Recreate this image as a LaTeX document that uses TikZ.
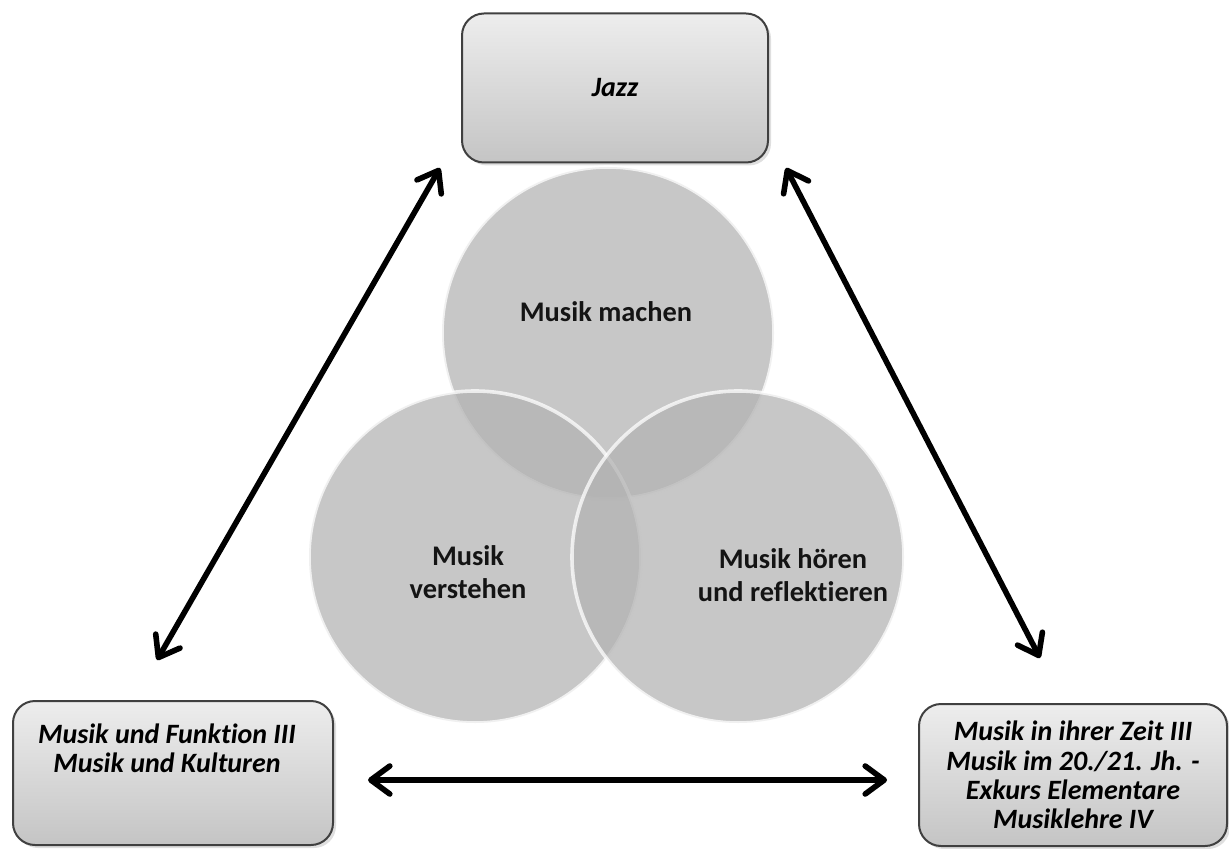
\documentclass[tikz,border=0pt]{standalone}
\usepackage{fontspec}
\setmainfont{Carlito}[Ligatures=NoCommon]
\usepackage{tikz}
\usetikzlibrary{arrows.meta,shadows,positioning}

\begin{document}
\begin{tikzpicture}[x=0.5pt,y=-0.5pt]
    \tikzset{topic/.style={draw=black!75,line width=1pt,rounded corners=11pt,
        top color=black!7,bottom color=black!23,
        drop shadow={opacity=.25,shadow xshift=1.5pt,shadow yshift=-1.5pt},
        inner sep=0pt,align=center,font=\bfseries\itshape\fontsize{14}{14.6}\selectfont},
      ring/.style={circle,minimum size=166pt,inner sep=0pt,
        fill=black!30,fill opacity=.73,draw=white,draw opacity=.75,line width=1.8pt},
      ringtext/.style={align=center,text=black!92,font=\bfseries\fontsize{14.2}{16.5}\selectfont},
      link/.style={line width=2.8pt,line cap=round,
        {Straight Barb[length=9.5pt,width=14pt,round]}-{Straight Barb[length=9.5pt,width=14pt,round]}}}
    \useasboundingbox (0,0) rectangle (1229,849);
    % topics
    \node[topic,minimum width=153pt,minimum height=74.5pt] (jazz) at (615,88) {Jazz};
    \node[topic,minimum width=160pt,minimum height=72pt] (funk) at (173,773) {};
    \node[align=center,font=\bfseries\itshape\fontsize{14}{14.6}\selectfont] (funktxt) at (167,748)
      {Musik und Funktion III\\Musik und Kulturen};
    \node[topic,minimum width=154pt,minimum height=71pt] (zeit) at (1073,775)
      {Musik in ihrer Zeit III\\Musik im 20./21. Jh. -\\Exkurs Elementare\\Musiklehre IV};
    % circles
    \node[ring] (machen) at (608,333) {};
    \node[ring] (verstehen) at (475,557) {};
    \node[ring] (hoeren) at (738,557) {};
    \node[ringtext] at (606,312) {Musik machen};
    \node[ringtext] at (468,572) {Musik\\verstehen};
    \node[ringtext] at (793,575) {Musik hören\\und reflektieren};
    % arrow ends
    \coordinate (jazzsw) at (440,168);
    \coordinate (jazzse) at (786,168);
    \coordinate (funkn) at (157,660);
    \coordinate (funke) at (368,780);
    \coordinate (zeitn) at (1040,658);
    \coordinate (zeitw) at (887,780);
    \path[link]
    (jazzsw) edge (funkn)
    (jazzse) edge (zeitn)
    (funke) edge (zeitw)
    ;
  \end{tikzpicture}
\end{document}
